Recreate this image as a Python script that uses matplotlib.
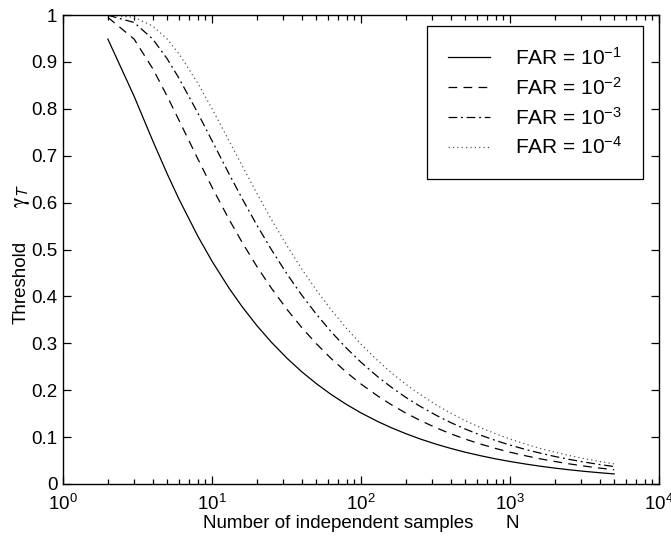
import matplotlib
matplotlib.use("Agg")
import matplotlib.pyplot as plt
from matplotlib.ticker import LogLocator, FixedLocator, FuncFormatter, NullFormatter

plt.rcParams['font.family'] = ['Liberation Sans', 'DejaVu Sans']
plt.rcParams['mathtext.fontset'] = 'custom'
plt.rcParams['mathtext.rm'] = 'Liberation Sans'
plt.rcParams['mathtext.it'] = 'Liberation Sans:italic'
plt.rcParams['mathtext.bf'] = 'Liberation Sans:bold'

# ---- data ----
n_samples = [2, 3, 4, 5, 6, 8, 10, 13, 16, 20, 25, 32, 40, 50, 63, 80, 100, 130, 160,
             200, 250, 320, 400, 500, 630, 800, 1000, 1300, 1600, 2000, 2500, 3200, 4000, 5000]
far_1e1 = [0.9487, 0.8269, 0.7320, 0.6616, 0.6075, 0.5294, 0.4751, 0.4178, 0.3772, 0.3378,
           0.3025, 0.2676, 0.2394, 0.2143, 0.1909, 0.1695, 0.1516, 0.1330, 0.1199, 0.1073,
           0.0959, 0.0848, 0.0759, 0.0678, 0.0605, 0.0536, 0.0480, 0.0421, 0.0379, 0.0339,
           0.0303, 0.0268, 0.0240, 0.0215]
far_1e2 = [0.9950, 0.9487, 0.8858, 0.8269, 0.7758, 0.6943, 0.6329, 0.5645, 0.5142, 0.4639,
           0.4178, 0.3715, 0.3337, 0.2995, 0.2676, 0.2380, 0.2132, 0.1873, 0.1690, 0.1512,
           0.1354, 0.1197, 0.1071, 0.0958, 0.0854, 0.0758, 0.0678, 0.0595, 0.0536, 0.0480,
           0.0429, 0.0379, 0.0339, 0.0303]
far_1e3 = [0.9995, 0.9841, 0.9487, 0.9067, 0.8653, 0.7920, 0.7320, 0.6616, 0.6075, 0.5521,
           0.5001, 0.4469, 0.4029, 0.3626, 0.3247, 0.2894, 0.2596, 0.2283, 0.2062, 0.1847,
           0.1654, 0.1464, 0.1310, 0.1173, 0.1045, 0.0928, 0.0830, 0.0728, 0.0657, 0.0587,
           0.0525, 0.0464, 0.0415, 0.0372]
far_1e4 = [0.99995, 0.9950, 0.9765, 0.9487, 0.9173, 0.8554, 0.8004, 0.7320, 0.6774, 0.6198,
           0.5645, 0.5070, 0.4586, 0.4140, 0.3715, 0.3317, 0.2981, 0.2625, 0.2372, 0.2127,
           0.1906, 0.1687, 0.1511, 0.1352, 0.1206, 0.1071, 0.0958, 0.0841, 0.0758, 0.0678,
           0.0607, 0.0536, 0.0480, 0.0429]
legend_labels = [r"FAR = $\mathregular{10^{-1}}$", r"FAR = $\mathregular{10^{-2}}$",
                 r"FAR = $\mathregular{10^{-3}}$", r"FAR = $\mathregular{10^{-4}}$"]
y_ticks = [0, 0.1, 0.2, 0.3, 0.4, 0.5, 0.6, 0.7, 0.8, 0.9, 1.0]

W, H = 671, 536
fig = plt.figure(figsize=(W / 100, H / 100), dpi=100)
L, R, B, T = 63, 659, 484, 15
ax = fig.add_axes([L / W, 1 - B / H, (R - L) / W, (B - T) / H])

lw = 0.9
ax.plot(n_samples, far_1e1, color='black', lw=lw, linestyle='-', label=legend_labels[0])
ax.plot(n_samples, far_1e2, color='black', lw=lw, linestyle=(0, (7, 5)), label=legend_labels[1])
ax.plot(n_samples, far_1e3, color='black', lw=lw, linestyle=(0, (7, 3, 1.5, 3)), label=legend_labels[2])
ax.plot(n_samples, far_1e4, color='#555555', lw=lw, linestyle=(0, (1, 2.5)), label=legend_labels[3])

ax.set_xscale('log')
ax.set_xlim(1, 1e4)
ax.set_ylim(0, 1)
ax.yaxis.set_major_locator(FixedLocator(y_ticks))
ax.yaxis.set_major_formatter(FuncFormatter(lambda v, p: "%g" % v))
ax.xaxis.set_major_locator(LogLocator(base=10, numticks=10))
ax.xaxis.set_minor_locator(LogLocator(base=10, subs=range(2, 10), numticks=10))
ax.xaxis.set_minor_formatter(NullFormatter())

ax.tick_params(which='both', direction='in', top=True, right=True, labelsize=13.5, width=0.9)
ax.tick_params(which='major', length=6)
ax.tick_params(axis='y', which='major', pad=4)
ax.tick_params(axis='x', which='major', pad=7)
ax.tick_params(which='minor', length=3.5)
for s in ax.spines.values():
    s.set_linewidth(1.0)

leg = ax.legend(loc='upper right', bbox_to_anchor=((643 - L) / (R - L), (B - 26) / (B - T)),
                fancybox=False, edgecolor='black', framealpha=1, fontsize=15,
                handlelength=2.0, handletextpad=1.2, borderpad=1.0, labelspacing=0.38,
                borderaxespad=0)
leg.get_frame().set_linewidth(0.9)

fig.text(338 / W, 1 - 524 / H, "Number of independent samples", ha='center', va='center', fontsize=13.5)
fig.text(512 / W, 1 - 524 / H, "N", ha='center', va='center', fontsize=13.5)
fig.text(21 / W, 1 - 282 / H, "Threshold", ha='center', va='center', rotation=90, fontsize=13.5)
fig.text(22 / W, 1 - 196 / H, r"$\mathrm{\gamma}_{\mathsf{T}}$", ha='center', va='center', rotation=90,
         fontsize=16, math_fontfamily='stix')

fig.savefig("out.png", dpi=100)
